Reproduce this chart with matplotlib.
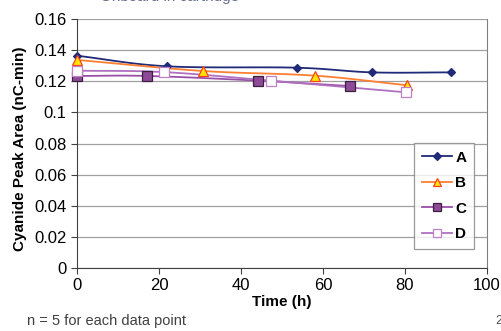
import numpy as np
import matplotlib
matplotlib.use("Agg")
import matplotlib.pyplot as plt
from matplotlib.lines import Line2D

plt.rcParams['font.family'] = ['Liberation Sans', 'DejaVu Sans']

# Data
a_x = [0, 22.0, 53.6, 72.0, 91.1]
a_y = [0.1364, 0.1296, 0.1287, 0.1257, 0.1257]
b_x = [0, 30.7, 58.0, 80.6]
b_y = [0.1337, 0.1266, 0.1236, 0.1174]
c_x = [0, 17.1, 44.1, 66.7]
c_y = [0.1234, 0.1234, 0.1204, 0.1169]
d_x = [0, 21.1, 47.2, 80.2]
d_y = [0.1268, 0.1259, 0.1204, 0.1129]
series_names = ['A', 'B', 'C', 'D']
x_ticks = [0, 20, 40, 60, 80, 100]
y_ticks = [0, 0.02, 0.04, 0.06, 0.08, 0.1, 0.12, 0.14, 0.16]
y_tick_labels = ['0', '0.02', '0.04', '0.06', '0.08', '0.1', '0.12', '0.14', '0.16']


def smooth(xs, ys, n=30):
    """Catmull-Rom style smoothing (like Excel smoothed lines)."""
    xs = np.asarray(xs, float)
    ys = np.asarray(ys, float)
    px = np.concatenate([[2 * xs[0] - xs[1]], xs, [2 * xs[-1] - xs[-2]]])
    py = np.concatenate([[2 * ys[0] - ys[1]], ys, [2 * ys[-1] - ys[-2]]])
    ox, oy = [], []
    for i in range(1, len(px) - 2):
        t = np.linspace(0, 1, n)
        for arr, out in ((px, ox), (py, oy)):
            p0, p1, p2, p3 = arr[i - 1], arr[i], arr[i + 1], arr[i + 2]
            out.extend(0.5 * ((2 * p1) + (-p0 + p2) * t
                              + (2 * p0 - 5 * p1 + 4 * p2 - p3) * t ** 2
                              + (-p0 + 3 * p1 - 3 * p2 + p3) * t ** 3))
    return ox, oy


fig = plt.figure(figsize=(5.01, 3.31), dpi=100)
ax = fig.add_axes([77 / 501, 1 - 268 / 331, 410 / 501, 249 / 331])

styles = [
    dict(color='#1F2A78', marker='D', mfc='#1F2A78', mec='#1F2A78', ms=4.5),
    dict(color='#FF7F32', marker='^', mfc='#FFE600', mec='#FF4020', ms=7),
    dict(color='#9A50A8', marker='s', mfc='#8E4A98', mec='#3A2040', ms=7),
    dict(color='#B070C0', marker='s', mfc='white', mec='#C080C8', ms=7),
]
data = [(a_x, a_y), (b_x, b_y), (c_x, c_y), (d_x, d_y)]
handles = []
for (xs, ys), st, name in zip(data, styles, series_names):
    sx, sy = smooth(xs, ys)
    ax.plot(sx, sy, color=st['color'], lw=1.3, zorder=3, clip_on=False)
    ax.plot(xs, ys, ls='none', marker=st['marker'], ms=st['ms'],
            mfc=st['mfc'], mec=st['mec'], mew=0.9, zorder=4, clip_on=False)
    handles.append(Line2D([0], [0], color=st['color'], lw=1.3, marker=st['marker'],
                          ms=st['ms'] * 0.85, mfc=st['mfc'], mec=st['mec'], mew=0.9))

ax.set_xlim(0, 100)
ax.set_ylim(0, 0.16)
ax.set_xticks(x_ticks)
ax.set_yticks(y_ticks)
ax.set_yticklabels(y_tick_labels)
ax.tick_params(axis='both', labelsize=12, length=4, width=0.8, color='#404040')
ax.yaxis.grid(True, color='#A0A0A0', lw=0.9)
ax.set_axisbelow(True)
ax.spines['top'].set_visible(False)
ax.spines['right'].set_color('#808080')
ax.spines['left'].set_color('#404040')
ax.spines['bottom'].set_color('#404040')

ax.set_xlabel('Time (h)', fontsize=11, fontweight='bold', labelpad=1)
ax.set_ylabel('Cyanide Peak Area (nC-min)', fontsize=11, fontweight='bold')
ax.yaxis.set_label_coords(-0.121, 0.48)

leg = ax.legend(handles, series_names, loc='upper left',
                bbox_to_anchor=((414 - 77) / 410, (268 - 143) / 249),
                borderaxespad=0,
                prop=dict(size=11, weight='bold'), frameon=True, fancybox=False,
                handlelength=2.0, borderpad=0.5, labelspacing=0.75,
                handletextpad=0.2)
leg.get_frame().set_edgecolor('#808080')
leg.get_frame().set_linewidth(0.9)

fig.text(100 / 501, 1.0 + 3 / 331, 'Onboard in cartridge', fontsize=11,
         color='#6A7090', ha='left', va='center')
fig.text(27 / 501, 1 - 321 / 331, 'n = 5 for each data point', fontsize=10.5,
         color='#404040', ha='left', va='center')
fig.text(495 / 501, 1 - 321 / 331, '2', fontsize=9, color='#505050',
         ha='left', va='center')

fig.savefig('out.png', dpi=100)
